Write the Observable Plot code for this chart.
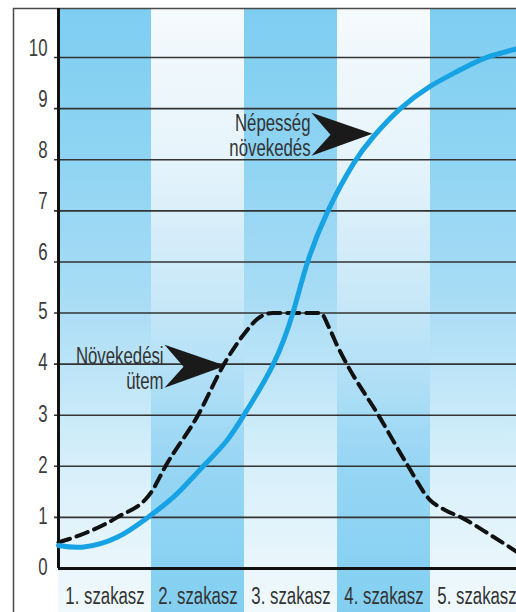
<!DOCTYPE html>
<html><head><meta charset="utf-8">
<script src="https://cdn.jsdelivr.net/npm/d3@7"></script>
<script src="https://cdn.jsdelivr.net/npm/@observablehq/plot@0.6"></script>
<style>
html,body{margin:0;padding:0;background:#fff;}
#chart svg{display:block;}
</style>
</head><body><div id="chart"></div>
<script>
// Stage (column) labels
const stages = ["1. szakasz", "2. szakasz", "3. szakasz", "4. szakasz", "5. szakasz"];
const stageIndex = [0, 1, 2, 3, 4];
const yTicks = [0, 1, 2, 3, 4, 5, 6, 7, 8, 9, 10];

// Népesség növekedés (solid blue) – x in stage units
const popX = [0, 0.27, 0.63, 0.96, 1.25, 1.53, 1.8, 2.02, 2.31, 2.52, 2.67, 2.89, 3.17, 3.39, 3.67, 4.0, 4.3, 4.6, 5.0];
const popY = [0.45, 0.42, 0.61, 1.0, 1.42, 1.95, 2.48, 3.08, 4.0, 5.0, 5.95, 6.97, 7.92, 8.46, 8.99, 9.44, 9.74, 10.0, 10.2];

// Növekedési ütem (dashed black)
const rateX = [0, 0.27, 0.63, 1.0, 1.15, 1.5, 1.78, 2.0, 2.15, 2.3, 2.82, 2.9, 3.0, 3.1, 3.44, 3.76, 3.99, 4.15, 4.33, 4.65, 5.0];
const rateY = [0.51, 0.68, 1.0, 1.5, 2.0, 3.0, 4.0, 4.6, 4.9, 5.0, 5.0, 4.75, 4.35, 4.0, 3.0, 2.0, 1.35, 1.15, 1.0, 0.65, 0.24];

// Annotations
const labelTexts = ["Népesség\nnövekedés", "Növekedési\nütem"];
const labelX = [2.71, 1.13];
const labelY = [8.47, 3.92];
const arrowX = [3.376, 1.796];
const arrowY = [8.51, 3.97];

const pop = popX.map((x, i) => ({x, y: popY[i]}));
const rate = rateX.map((x, i) => ({x, y: rateY[i]}));
const labels = labelTexts.map((t, i) => ({text: t, x: labelX[i], y: labelY[i]}));
const arrows = arrowX.map((x, i) => ({x, y: arrowY[i]}));
const bands = stageIndex.map(i => ({i, label: stages[i]}));

const arrowhead = {
  draw(ctx) {
    ctx.moveTo(0, 0);
    ctx.lineTo(-61, -21);
    ctx.lineTo(-42, 1);
    ctx.lineTo(-61, 22);
    ctx.closePath();
  }
};

const font = "'Liberation Sans', Arial, sans-serif";
const fs = 23;

const svg = Plot.plot({
  width: 516,
  height: 612,
  marginLeft: 58,
  marginTop: 8,
  marginBottom: 44,
  marginRight: -7,
  x: {domain: [0, 5]},
  y: {domain: [0, 10.96]},
  style: {fontFamily: font, background: "transparent"},
  marks: [
    Plot.rect(bands.filter(d => d.i % 2 === 0), {x1: d => d.i, x2: d => d.i + 1, fill: "url(#gOdd)", insetBottom: -44}),
    Plot.rect(bands.filter(d => d.i % 2 === 1), {x1: d => d.i, x2: d => d.i + 1, fill: "url(#gEven)", insetBottom: -44}),
    Plot.frame({stroke: "#4a4a4a", strokeWidth: 1.5, insetLeft: -45, insetBottom: -60, insetRight: -20}),
    Plot.ruleY(yTicks.filter(v => v > 0), {stroke: "#333", strokeWidth: 1.6, insetLeft: -4}),
    Plot.axisY(yTicks.filter(v => v <= 5), {tickSize: 0, tickPadding: 11, fontSize: fs, fill: "#3c3c3c", dy: -1, label: null, tickFormat: d => String(d)}),
    Plot.axisY(yTicks.filter(v => v > 5), {tickSize: 0, tickPadding: 11, fontSize: fs, fill: "#3c3c3c", dy: -9, label: null, tickFormat: d => String(d)}),
    Plot.axisX(stageIndex.map(i => i + 0.5), {tickSize: 0, tickPadding: 19, fontSize: fs, fill: "#333", label: null, tickFormat: (d) => stages[Math.floor(d)]}),
    Plot.ruleX([0], {stroke: "#111", strokeWidth: 3}),
    Plot.ruleY([0], {stroke: "#111", strokeWidth: 3}),
    Plot.line(rate, {x: "x", y: "y", stroke: "#111", strokeWidth: 4, strokeDasharray: "12,7", curve: "monotone-x"}),
    Plot.line(pop, {x: "x", y: "y", stroke: "#17a3e3", strokeWidth: 5, curve: "natural"}),
    Plot.text(labels, {x: "x", y: "y", text: "text", textAnchor: "end", fontSize: fs, lineHeight: 1.09, fill: "#333"}),
    Plot.dot(arrows, {x: "x", y: "y", symbol: arrowhead, fill: "#1a1a1a", stroke: "none", r: 5})
  ]
});

const defs = d3.select(svg).insert("defs", ":first-child");
function grad(id, stops) {
  const g = defs.append("linearGradient").attr("id", id)
    .attr("x1", 0).attr("y1", 0).attr("x2", 0).attr("y2", 1);
  stops.forEach(([o, c]) => g.append("stop").attr("offset", o).attr("stop-color", c));
}
grad("gOdd", [[0, "#7ecef1"], [0.25, "#8fd4f3"], [0.48, "#a8dcf5"], [0.75, "#d6effa"], [0.93, "#eaf6fc"], [1, "#f0f9fd"]]);
grad("gEven", [[0, "#f5fafd"], [0.25, "#e6f4fb"], [0.48, "#c8e8f8"], [0.75, "#98d6f4"], [0.93, "#88d1f2"], [1, "#84cff1"]]);

document.getElementById("chart").appendChild(svg);

// Condense the text horizontally (the original uses a condensed grotesque face)
const squeeze = 0.73;
svg.querySelectorAll("text").forEach(t => {
  const tr = t.getAttribute("transform");
  if (tr) {
    t.setAttribute("transform", tr + ` scale(${squeeze},1)`);
    const x = t.getAttribute("x");
    if (x) t.setAttribute("x", +x / squeeze);
    t.querySelectorAll("tspan[x]").forEach(s => s.setAttribute("x", +s.getAttribute("x") / squeeze));
  } else {
    const spans = t.querySelectorAll("tspan");
    const els = spans.length ? Array.from(spans) : [t];
    els.forEach(e => {
      const w = e.getComputedTextLength();
      if (w > 0) {
        e.setAttribute("textLength", (w * squeeze).toFixed(1));
        e.setAttribute("lengthAdjust", "spacingAndGlyphs");
      }
    });
  }
});
</script>
</body></html>
